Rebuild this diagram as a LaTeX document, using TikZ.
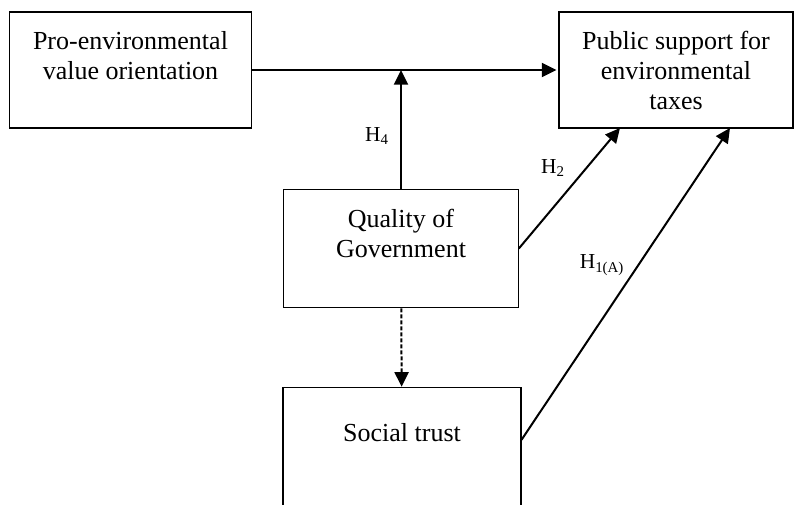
\documentclass[tikz,border=0pt]{standalone}
\usepackage{fontspec}
\setmainfont{Liberation Serif}
\usetikzlibrary{arrows.meta}

\begin{document}
\begin{tikzpicture}[>={Triangle[length=11pt,width=10.5pt]}, x=0.75pt, y=-0.75pt]
    \tikzstyle{format} = [draw, line width=0.8pt, rectangle, align=center,
	inner sep=0pt, font=\fontsize{19.5}{22.5}\selectfont]
    \tikzstyle{hyp} = [font=\fontsize{16}{18}\selectfont]

	\path[use as bounding box] (0,0) rectangle (794,505);
	\clip (0,0) rectangle (794,505);

	\begin{scope}
		\path[->, line width=1.5pt]
			node[format, minimum width=182pt, minimum height=87pt] (P) at (130.5,70)
				{Pro-environmental\\value orientation\\\mbox{}}
			node[format, minimum width=175.5pt, minimum height=87pt] (T) at (676,70)
				{Public support for\\environmental\\taxes}
			node[format, minimum width=176pt, minimum height=89pt] (Q) at (401,248.5)
				{Quality of\\Government\\\mbox{}}
			node[format, minimum width=178.5pt, minimum height=112pt] (S) at (402,462)
				{Social trust\\\mbox{}\\\mbox{}}

			(Q.north |- P.east) coordinate (m)
			(620,128) coordinate (t2)
			(730,128) coordinate (t1)
			(S.north east) ++(0,53) coordinate (s1)

			node[hyp] (h4) at (377,136) {H\textsubscript{4}}
			node[hyp] (h2) at (553,168) {H\textsubscript{2}}
			node[hyp] (h1) at (602,265) {H\textsubscript{1(A)}}

			(P) edge[shorten >=1.5pt] (T)
			(Q) edge (m)
			(Q.east) edge (t2)
			(s1) edge (t1)
			(Q) edge[dash pattern=on 3pt off 1.5pt] (S)
		;
	\end{scope}
\end{tikzpicture}
\end{document}
